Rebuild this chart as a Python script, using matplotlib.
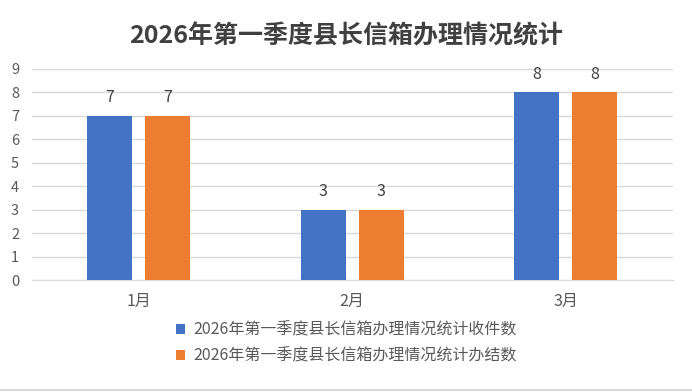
import numpy as np
import matplotlib.pyplot as plt
from matplotlib.lines import Line2D

plt.rcParams['font.family'] = ['Noto Sans CJK SC', 'DejaVu Sans']

months = ['1月', '2月', '3月']
received = [7, 3, 8]
handled = [7, 3, 8]
series_names = ['2026年第一季度县长信箱办理情况统计收件数',
                '2026年第一季度县长信箱办理情况统计办结数']
title = '2026年第一季度县长信箱办理情况统计'

blue = '#4472C4'
orange = '#ED7D31'

fig = plt.figure(figsize=(6.92, 3.92), dpi=100)
ax = fig.add_axes([0.046, 0.2857, 0.926, 0.5383])

x = np.arange(len(months))
w = 0.21
off = 0.136
b1 = ax.bar(x - off, received, w, color=blue, label=series_names[0], zorder=3)
b2 = ax.bar(x + off, handled, w, color=orange, label=series_names[1], zorder=3)

for bars in (b1, b2):
    for r in bars:
        ax.annotate(str(int(r.get_height())), (r.get_x() + r.get_width() / 2, r.get_height()),
                    xytext=(0, 7), textcoords='offset points', ha='center', va='bottom',
                    fontsize=11.5, color='#404040')

ax.set_xlim(-0.5, 2.5)
ax.set_ylim(0, 9)
ax.set_yticks(range(10))
ax.set_xticks(x)
ax.set_xticklabels(months)
ax.yaxis.grid(True, color='#d9d9d9', linewidth=1, zorder=0)
ax.set_axisbelow(True)
for s in ['top', 'right', 'left']:
    ax.spines[s].set_visible(False)
ax.spines['bottom'].set_color('#d9d9d9')
ax.tick_params(axis='both', length=0, labelsize=10.5, colors='#595959')
ax.tick_params(axis='x', pad=9, labelsize=11.5)
ax.tick_params(axis='y', pad=15)
for lbl in ax.get_yticklabels():
    lbl.set_horizontalalignment('left')

fig.text(0.5, 0.907, title, ha='center', va='center', fontsize=18,
         fontweight='bold', color='#404040')

fig.legend(handles=[b1, b2], loc='center', bbox_to_anchor=(0.5, 0.125), ncol=1,
           frameon=False, fontsize=11.5, labelcolor='#595959',
           handlelength=0.6, handleheight=0.6, handletextpad=0.5, labelspacing=0.55)

fig.add_artist(Line2D([0, 1], [0.006, 0.006], transform=fig.transFigure,
                      color='#d9d9d9', linewidth=1.5))

fig.savefig('out.png', dpi=100)
